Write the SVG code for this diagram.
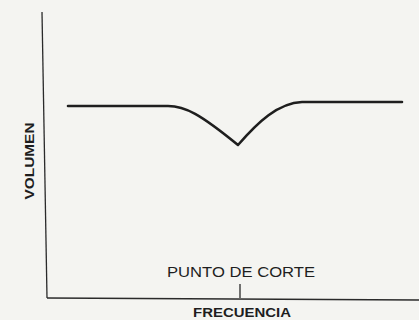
<svg xmlns="http://www.w3.org/2000/svg" width="419" height="320" viewBox="0 0 419 320">
<style>
.ax{stroke:#2a2a2a;stroke-width:1.3;fill:none}
.curve{stroke:#1e1e1e;stroke-width:2.6;fill:none;stroke-linejoin:round;stroke-linecap:round}
.lbl{font-family:"Liberation Sans",Arial,sans-serif;fill:#1e1e1e}
.b{font-weight:bold}
</style>
<rect width="419" height="320" fill="#f4f4f1"/>
<g id="axes">
<line class="ax" x1="42" y1="12" x2="47" y2="298"/>
<line class="ax" x1="47" y1="298" x2="419" y2="300"/>
<line class="ax" x1="240" y1="284" x2="240" y2="298"/>
</g>
<g id="connectors">
<path class="curve" d="M68,106 H168 C185,106 200,114 238,145 C258,122 278,103 302,102 H402"/>
</g>
<g id="labels">
<text class="lbl b" x="33.5" y="161" font-size="13" text-anchor="middle" textLength="77" lengthAdjust="spacingAndGlyphs" transform="rotate(-90 33.5 161)">VOLUMEN</text>
<text class="lbl" x="167" y="277" font-size="15" textLength="148" lengthAdjust="spacingAndGlyphs">PUNTO DE CORTE</text>
<text class="lbl b" x="193" y="316.5" font-size="13.5" textLength="98" lengthAdjust="spacingAndGlyphs">FRECUENCIA</text>
</g>
</svg>
